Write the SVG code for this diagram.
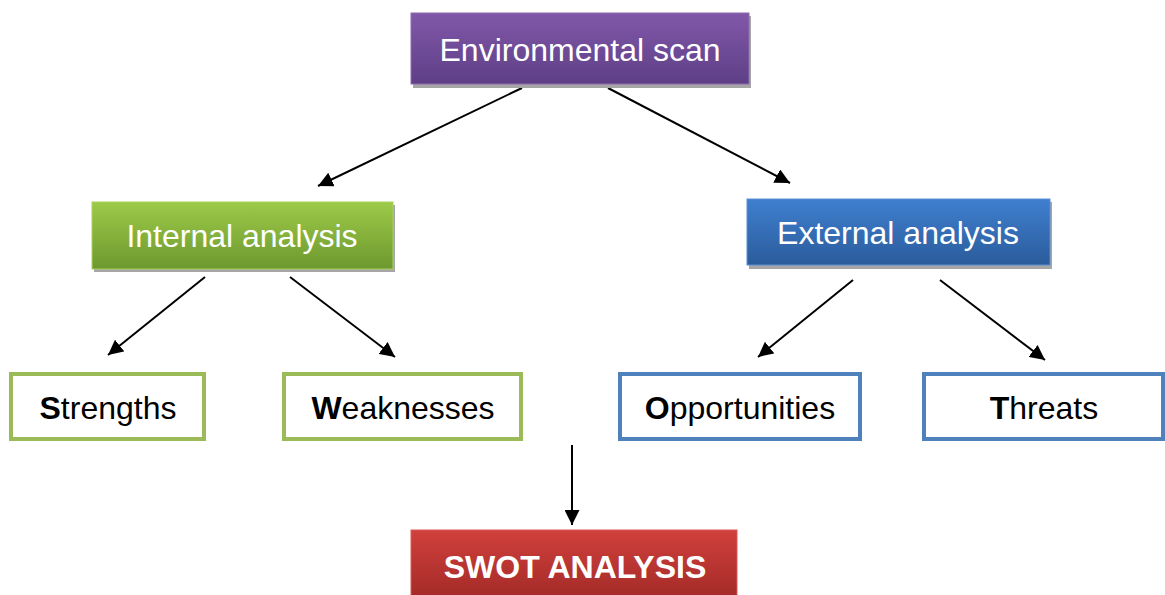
<svg xmlns="http://www.w3.org/2000/svg" width="1165" height="595" viewBox="0 0 1165 595">
<defs>
<linearGradient id="gP" x1="0" y1="0" x2="0" y2="1"><stop offset="0" stop-color="#8158a9"/><stop offset="1" stop-color="#5e3f86"/></linearGradient>
<linearGradient id="gG" x1="0" y1="0" x2="0" y2="1"><stop offset="0" stop-color="#9dca48"/><stop offset="1" stop-color="#6d982f"/></linearGradient>
<linearGradient id="gB" x1="0" y1="0" x2="0" y2="1"><stop offset="0" stop-color="#3f7fcf"/><stop offset="1" stop-color="#2b5c9c"/></linearGradient>
<linearGradient id="gR" x1="0" y1="0" x2="0" y2="1"><stop offset="0" stop-color="#d1403c"/><stop offset="1" stop-color="#a22a27"/></linearGradient>
<marker id="ah2" viewBox="0 0 10 10" refX="10" refY="5" markerWidth="7.5" markerHeight="7.5" orient="auto"><path d="M0,0 L10,5 L0,10 z" fill="#000"/></marker>
</defs>
<style>
.t{font-family:"Liberation Sans",Arial,sans-serif;text-anchor:middle}
.w{fill:#fff;font-size:32px}
.k{fill:#000;font-size:32px}
.sh{fill:#a6a6a6}
.gb{fill:#fff;stroke:#9bbb59;stroke-width:4}
.bb{fill:#fff;stroke:#4f81bd;stroke-width:4}
.c{stroke:#000;stroke-width:2;fill:none;marker-end:url(#ah2)}
</style>
<g id="connectors">
<line class="c" x1="522" y1="88" x2="318" y2="186"/>
<line class="c" x1="608" y1="88" x2="790" y2="183"/>
<line class="c" x1="205" y1="277" x2="108" y2="355"/>
<line class="c" x1="290" y1="277" x2="395" y2="357"/>
<line class="c" x1="853" y1="280" x2="758" y2="357"/>
<line class="c" x1="940" y1="280" x2="1045" y2="360"/>
<line class="c" x1="572" y1="445" x2="572" y2="525"/>
</g>
<g id="env">
<rect class="sh" x="413" y="16" width="338" height="72"/>
<rect x="411" y="13" width="338" height="71" fill="url(#gP)" stroke="#8c6bb1" stroke-width="1"/>
<text class="t w" x="580" y="61">Environmental scan</text>
</g>
<g id="internal">
<rect class="sh" x="94" y="205" width="301" height="67"/>
<rect x="92" y="202" width="301" height="67" fill="url(#gG)" stroke="#a9d15e" stroke-width="1"/>
<text class="t w" x="242" y="247">Internal analysis</text>
</g>
<g id="external">
<rect class="sh" x="749" y="202" width="303" height="67"/>
<rect x="747" y="199" width="303" height="66" fill="url(#gB)" stroke="#5a8fd0" stroke-width="1"/>
<text class="t w" x="898" y="244">External analysis</text>
</g>
<g id="strengths">
<rect class="gb" x="11" y="374" width="193" height="65"/>
<text class="t k" x="108" y="419"><tspan font-weight="bold">S</tspan>trengths</text>
</g>
<g id="weaknesses">
<rect class="gb" x="284" y="374" width="237" height="65"/>
<text class="t k" x="403" y="419"><tspan font-weight="bold">W</tspan>eaknesses</text>
</g>
<g id="opportunities">
<rect class="bb" x="620" y="374" width="240" height="65"/>
<text class="t k" x="740" y="419"><tspan font-weight="bold">O</tspan>pportunities</text>
</g>
<g id="threats">
<rect class="bb" x="924" y="374" width="239" height="65"/>
<text class="t k" x="1044" y="419"><tspan font-weight="bold">T</tspan>hreats</text>
</g>
<g id="swot">
<rect x="411" y="530" width="326" height="70" fill="url(#gR)" stroke="#d85a56" stroke-width="1"/>
<text class="t" x="575" y="578" fill="#fff" font-size="32" font-weight="bold">SWOT ANALYSIS</text>
</g>
</svg>
